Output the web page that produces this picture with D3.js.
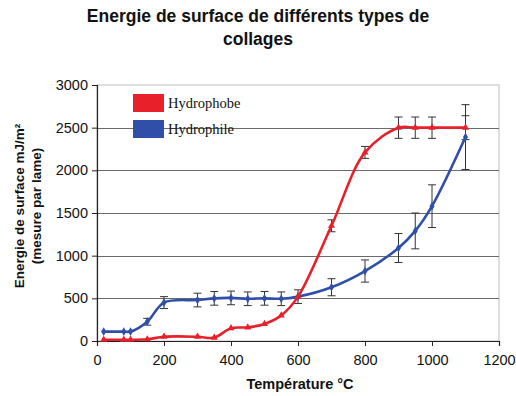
<!DOCTYPE html>
<html><head><meta charset="utf-8">
<script src="https://cdn.jsdelivr.net/npm/d3@7"></script>
<style>body{margin:0;background:#fff}svg{display:block}</style>
</head><body>
<svg id="c" width="516" height="396"></svg>
<script>
const titleLines = ["Energie de surface de différents types de", "collages"];
const xLabel = "Température °C";
const yLabelLines = ["Energie de surface mJ/m²", "(mesure par lame)"];
const xTicks = [0, 200, 400, 600, 800, 1000, 1200];
const yTicks = [0, 500, 1000, 1500, 2000, 2500, 3000];
const seriesNames = ["Hydrophobe", "Hydrophile"];
const seriesColors = ["#e8202a", "#2f4fa8"];

const hydrophobeT = [20, 80, 100, 150, 200, 300, 350, 400, 450, 500, 550, 600, 700, 800, 900, 950, 1000, 1100];
const hydrophobeV = [15, 15, 15, 20, 50, 50, 40, 150, 160, 200, 300, 520, 1350, 2210, 2500, 2500, 2500, 2500];
const hydrophobeErr = [0, 0, 0, 0, 0, 0, 0, 0, 0, 0, 0, 0, 70, 70, 125, 125, 125, 140];

const hydrophileT = [20, 80, 100, 150, 200, 300, 350, 400, 450, 500, 550, 600, 700, 800, 900, 950, 1000, 1100];
const hydrophileV = [110, 110, 110, 226, 450, 480, 500, 505, 495, 500, 495, 520, 630, 820, 1090, 1290, 1580, 2390];
const hydrophileErr = [0, 0, 0, 40, 70, 80, 80, 80, 80, 80, 80, 80, 100, 130, 170, 210, 250, 380];

const svg = d3.select("#c");
const L = 97, R = 499, T = 85, B = 341;
const x = d3.scaleLinear().domain([0, 1200]).range([L, R]);
const y = d3.scaleLinear().domain([0, 3000]).range([B, T]);

// plot border
svg.append("rect").attr("x", L).attr("y", T).attr("width", R - L).attr("height", B - T)
  .attr("fill", "none").attr("stroke", "#c8c8c8").attr("stroke-width", 1.2);

// gridlines
svg.append("g").selectAll("line").data(yTicks.filter(v => v > 0 && v < 3000)).join("line")
  .attr("x1", L).attr("x2", R).attr("y1", d => Math.round(y(d)) + 0.5).attr("y2", d => Math.round(y(d)) + 0.5)
  .attr("stroke", "#6a6a6a").attr("stroke-width", 1);

// axes
const xAxis = svg.append("g").attr("transform", `translate(0,${B})`)
  .call(d3.axisBottom(x).tickValues(xTicks).tickSize(5).tickPadding(9).tickFormat(d3.format("d")));
const yAxis = svg.append("g").attr("transform", `translate(${L},0)`)
  .call(d3.axisLeft(y).tickValues(yTicks).tickSize(5).tickPadding(4).tickFormat(d3.format("d")));
[xAxis, yAxis].forEach(g => {
  g.select(".domain").attr("stroke", "#222").attr("stroke-width", 1.2);
  g.selectAll(".tick line").attr("stroke", "#222");
  g.selectAll("text").attr("font-family", "Liberation Sans, Arial, sans-serif").attr("font-size", 14.5).attr("fill", "#111");
});

const series = [
  {name: seriesNames[0], t: hydrophobeT, v: hydrophobeV, e: hydrophobeErr, color: seriesColors[0], marker: d3.symbolTriangle},
  {name: seriesNames[1], t: hydrophileT, v: hydrophileV, e: hydrophileErr, color: seriesColors[1], marker: d3.symbolDiamond}
];

const line = d3.line().x(d => x(d[0])).y(d => y(d[1])).curve(d3.curveCatmullRom.alpha(0.5));

// error bars
series.forEach(s => {
  const pts = s.t.map((t, i) => ({t, v: s.v[i], e: s.e[i]})).filter(p => p.e > 0);
  const g = svg.append("g").attr("stroke", "#333").attr("stroke-width", 1);
  g.selectAll("line.v").data(pts).join("line").attr("class", "v")
    .attr("x1", p => x(p.t)).attr("x2", p => x(p.t)).attr("y1", p => y(p.v - p.e)).attr("y2", p => y(p.v + p.e));
  g.selectAll("line.t").data(pts).join("line").attr("class", "t")
    .attr("x1", p => x(p.t) - 4).attr("x2", p => x(p.t) + 4).attr("y1", p => y(p.v + p.e)).attr("y2", p => y(p.v + p.e));
  g.selectAll("line.b").data(pts).join("line").attr("class", "b")
    .attr("x1", p => x(p.t) - 4).attr("x2", p => x(p.t) + 4).attr("y1", p => y(p.v - p.e)).attr("y2", p => y(p.v - p.e));
});

// lines and markers
series.slice().reverse().forEach(s => {
  const data = s.t.map((t, i) => [t, s.v[i]]);
  svg.append("path").datum(data).attr("d", line).attr("fill", "none")
    .attr("stroke", s.color).attr("stroke-width", 2.6);
  svg.append("g").selectAll("path").data(data).join("path")
    .attr("transform", d => `translate(${x(d[0])},${y(d[1])})`)
    .attr("d", d3.symbol().type(s.marker).size(22)).attr("fill", s.color);
});

// legend
series.forEach((s, i) => {
  const ly = 94 + i * 26;
  svg.append("rect").attr("x", 133).attr("y", ly).attr("width", 31).attr("height", 18).attr("fill", s.color);
  svg.append("text").attr("x", 168).attr("y", ly + 14).text(s.name)
    .attr("font-family", "Liberation Serif, Times New Roman, serif").attr("font-size", 14.5).attr("fill", "#111");
});

// title
svg.append("g").selectAll("text").data(titleLines).join("text")
  .attr("x", 258).attr("y", (d, i) => 22 + i * 23).attr("text-anchor", "middle")
  .attr("font-family", "Liberation Sans, Arial, sans-serif").attr("font-weight", "bold").attr("font-size", 17.5)
  .attr("fill", "#111").text(d => d);

// x label
svg.append("text").attr("x", 300).attr("y", 389).attr("text-anchor", "middle")
  .attr("font-family", "Liberation Sans, Arial, sans-serif").attr("font-weight", "bold").attr("font-size", 14.5)
  .attr("fill", "#111").text(xLabel);

// y label
svg.append("g").selectAll("text").data(yLabelLines).join("text")
  .attr("transform", (d, i) => `translate(${24 + i * 17},206) rotate(-90)`).attr("text-anchor", "middle")
  .attr("font-family", "Liberation Sans, Arial, sans-serif").attr("font-weight", "bold").attr("font-size", 13.5)
  .attr("fill", "#111").text(d => d);
</script>
</body></html>
